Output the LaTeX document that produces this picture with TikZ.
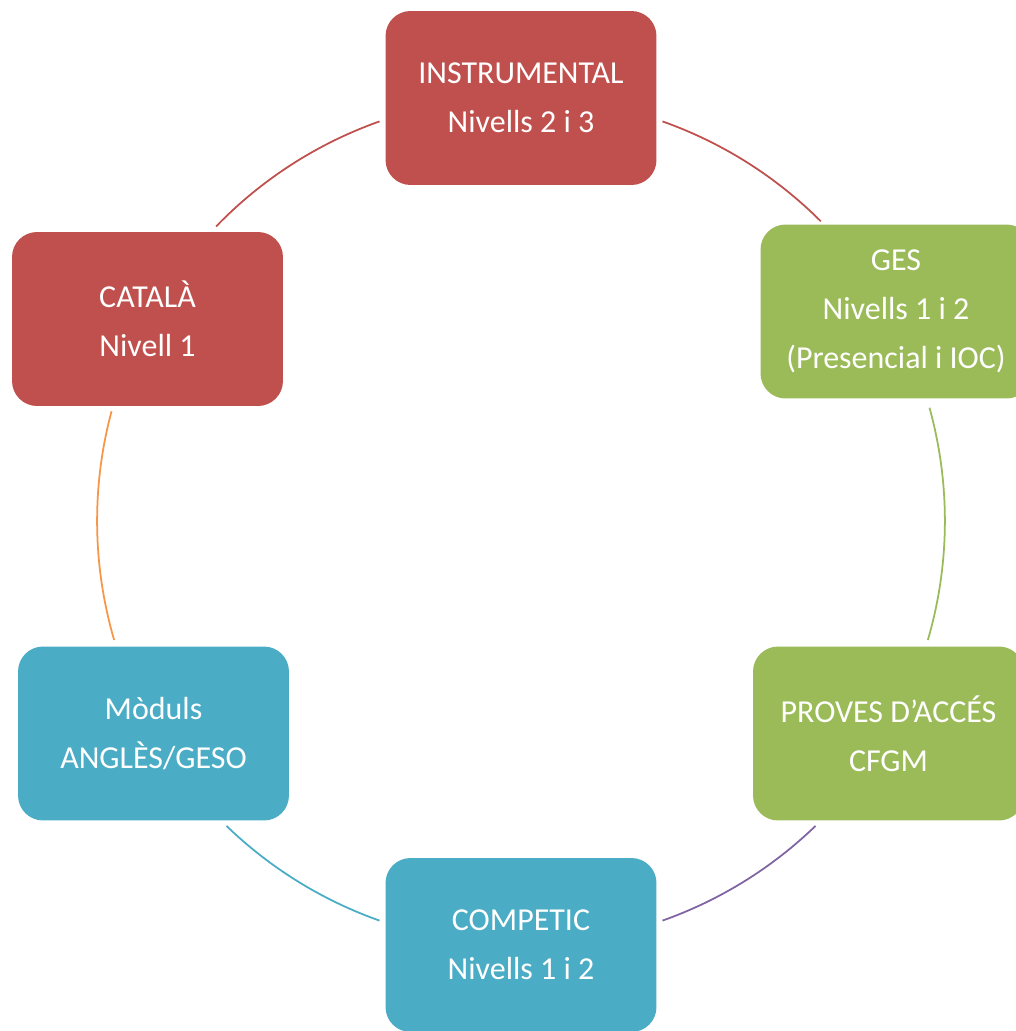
\documentclass[tikz,border=0pt]{standalone}
\usepackage{fontspec}
\setmainfont{Carlito}
\usetikzlibrary{positioning}
\definecolor{boxred}{HTML}{C0504D}
\definecolor{boxgreen}{HTML}{9BBB59}
\definecolor{boxblue}{HTML}{4BACC6}
\definecolor{ringpurple}{HTML}{8064A2}
\definecolor{ringorange}{HTML}{F79646}

\begin{document}
\begin{tikzpicture}[x=0.02cm,y=-0.02cm,
box/.style={rectangle,rounded corners=0.5cm,minimum width=5.42cm,minimum height=3.48cm,
    inner sep=0pt,align=center,text=white,font=\fontsize{18.2}{27.8}\selectfont},
ring/.style={line width=1pt}]
\clip (0,0) rectangle (1016,1031);
\fill [white] (0,0) rectangle (1016,1031);
\coordinate (hub) at (521,521);
% the six boxes round the ring
\node (instr) [box,fill=boxred] at (521,98) {INSTRUMENTAL\\Nivells 2 i 3};
\node (ges) [box,fill=boxgreen] at (896,311.5) {GES\\Nivells 1 i 2\\(Presencial i IOC)};
\node (proves) [box,fill=boxgreen] at (888.5,733.5) {PROVES D’ACCÉS\\CFGM};
\node (competic) [box,fill=boxblue] at (521,945) {COMPETIC\\Nivells 1 i 2};
\node (moduls) [box,fill=boxblue] at (153.5,733.5) {Mòduls\\ANGLÈS/GESO};
\node (catala) [box,fill=boxred] at (147.5,319) {CATALÀ\\Nivell 1};
% arcs between the boxes
\draw [ring,boxred] ([shift={(70.5:8.48cm)}]hub) arc[start angle=70.5,end angle=45,radius=8.48cm];
\draw [ring,boxgreen] ([shift={(15.5:8.48cm)}]hub) arc[start angle=15.5,end angle=-16.3,radius=8.48cm];
\draw [ring,ringpurple] ([shift={(-46:8.48cm)}]hub) arc[start angle=-46,end angle=-70.5,radius=8.48cm];
\draw [ring,boxblue] ([shift={(-109.5:8.48cm)}]hub) arc[start angle=-109.5,end angle=-134,radius=8.48cm];
\draw [ring,ringorange] ([shift={(196.3:8.48cm)}]hub) arc[start angle=196.3,end angle=165,radius=8.48cm];
\draw [ring,boxred] ([shift={(109.5:8.48cm)}]hub) arc[start angle=109.5,end angle=136,radius=8.48cm];
\end{tikzpicture}
\end{document}
